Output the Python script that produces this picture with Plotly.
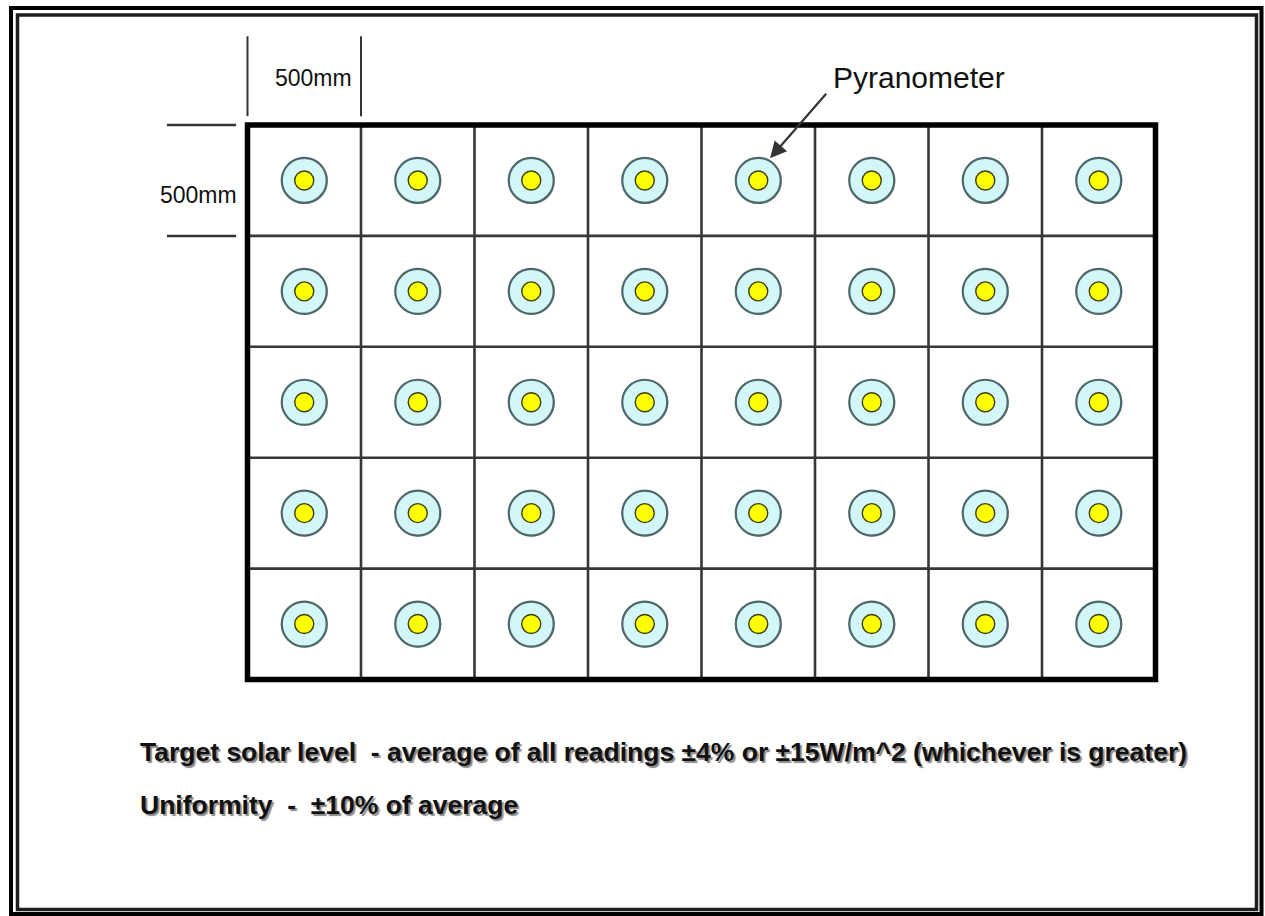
import plotly.graph_objects as go

# ---------------- data ----------------
cell_mm = 500                      # size of one grid cell
n_cols = 8
n_rows = 5
col_edges_mm = [0, 500, 1000, 1500, 2000, 2500, 3000, 3500, 4000]
row_edges_mm = [0, 500, 1000, 1500, 2000, 2500]
sensor_x_mm = [250, 750, 1250, 1750, 2250, 2750, 3250, 3750]
sensor_y_mm = [250, 750, 1250, 1750, 2250]
dimension_label = "500mm"
callout_label = "Pyranometer"
callout_sensor = (4, 0)            # column, row of the sensor pointed at
note_lines = [
    "Target solar level  - average of all readings \u00b14% or \u00b115W/m^2 (whichever is greater)",
    "Uniformity  -  \u00b110% of average",
]

# ---------------- figure ----------------
W, H = 1265, 916
FONT = "Liberation Sans, Arial, sans-serif"
fig = go.Figure()

# interior grid lines
gx, gy = [], []
for x in col_edges_mm[1:-1]:
    gx += [x, x, None]
    gy += [row_edges_mm[0], row_edges_mm[-1], None]
for y in row_edges_mm[1:-1]:
    gx += [col_edges_mm[0], col_edges_mm[-1], None]
    gy += [y, y, None]
fig.add_trace(go.Scatter(x=gx, y=gy, mode="lines",
                         line=dict(color="#363636", width=2.6),
                         hoverinfo="skip"))

# pyranometers
px_, py_ = [], []
for yy in sensor_y_mm:
    for xx in sensor_x_mm:
        px_.append(xx)
        py_.append(yy)
# shadow
fig.add_trace(go.Scatter(x=[v + 3 for v in px_], y=[v + 3 for v in py_],
                         mode="markers",
                         marker=dict(size=46, color="rgba(110,130,130,0.5)",
                                     line=dict(width=0)),
                         hoverinfo="skip"))
fig.add_trace(go.Scatter(x=px_, y=py_, mode="markers",
                         marker=dict(size=45, color="#d3f6f8",
                                     line=dict(color="#4e6767", width=2.2)),
                         hoverinfo="skip"))
fig.add_trace(go.Scatter(x=px_, y=py_, mode="markers",
                         marker=dict(size=19, color="#ffff00",
                                     line=dict(color="#3d3d10", width=1.4)),
                         hoverinfo="skip"))

# outer grid border
fig.add_shape(type="rect", xref="x", yref="y",
              x0=col_edges_mm[0], x1=col_edges_mm[-1],
              y0=row_edges_mm[0], y1=row_edges_mm[-1],
              line=dict(color="black", width=5.5))

# dimension lines (top)
for x in col_edges_mm[:2]:
    fig.add_shape(type="line", xref="x", yref="y", x0=x, x1=x,
                  y0=-400, y1=-40, line=dict(color="#333333", width=2))
fig.add_annotation(x=(col_edges_mm[0] + col_edges_mm[1]) / 2 + 40, y=-212,
                   xref="x", yref="y", text=dimension_label, showarrow=False,
                   font=dict(family=FONT, size=23, color="#111111"))
# dimension lines (left)
for y in row_edges_mm[:2]:
    fig.add_shape(type="line", xref="x", yref="y", x0=-355, x1=-50,
                  y0=y, y1=y, line=dict(color="#333333", width=2.5))
fig.add_annotation(x=-38, y=(row_edges_mm[0] + row_edges_mm[1]) / 2 + 65,
                   xref="x", yref="y", text=dimension_label, showarrow=False,
                   xanchor="right",
                   font=dict(family=FONT, size=23, color="#111111"))

# callout
cx = sensor_x_mm[callout_sensor[0]]
cy = sensor_y_mm[callout_sensor[1]]
fig.add_annotation(x=cx + 52, y=cy - 100, xref="x", yref="y",
                   ax=cx + 305, ay=cy - 398, axref="x", ayref="y",
                   text="", showarrow=True, arrowhead=2, arrowsize=1.5,
                   arrowwidth=2.2, arrowcolor="#333333")
fig.add_annotation(x=cx + 322, y=cy - 462, xref="x", yref="y",
                   text=callout_label, showarrow=False, xanchor="left",
                   font=dict(family=FONT, size=30, color="#111111"))

# notes
for i, line in enumerate(note_lines):
    fig.add_annotation(x=138 / W, y=1 - (752 + 53 * i) / H, xref="paper",
                       yref="paper", text="<b>" + line + "</b>",
                       showarrow=False, xanchor="left", yanchor="middle",
                       font=dict(family=FONT, size=26.5, color="#111111",
                                 shadow="2px 2px 1px #8a8a8a"))

# page frame (double border)
def pbox(x0, y0, x1, y1):
    return dict(x0=x0 / W, x1=x1 / W, y0=1 - y0 / H, y1=1 - y1 / H)

fig.add_shape(type="rect", xref="paper", yref="paper",
              line=dict(color="black", width=4), **pbox(11, 8, 1261.5, 914))
fig.add_shape(type="rect", xref="paper", yref="paper",
              line=dict(color="#1e1e1e", width=3.5), **pbox(17.5, 15, 1256.5, 909.5))

# axes in millimetres, mapped to the frame
sx = 0.227
sy = 0.2218
x_left = -247.5 / sx
x_right = (W - 247.5) / sx
y_top = -125 / sy
y_bot = (H - 125) / sy
fig.update_xaxes(range=[x_left, x_right], visible=False, fixedrange=True)
fig.update_yaxes(range=[y_bot, y_top], visible=False, fixedrange=True)
fig.update_layout(width=W, height=H, margin=dict(l=0, r=0, t=0, b=0),
                  paper_bgcolor="white", plot_bgcolor="white",
                  showlegend=False)

fig.write_html("out.html", config={"displayModeBar": False},
               post_script="document.body.style.margin='0px';document.body.style.overflow='hidden';")
